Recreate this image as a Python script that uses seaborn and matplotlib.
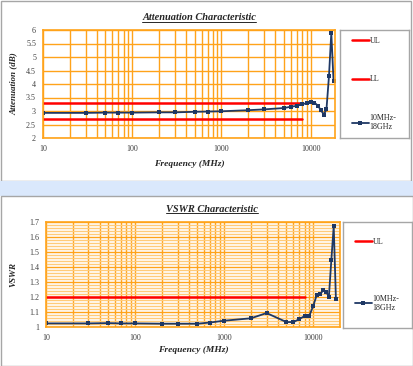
import numpy as np
import pandas as pd
import matplotlib
matplotlib.use("Agg")
import matplotlib.pyplot as plt
import seaborn as sns
from matplotlib.ticker import FixedLocator, NullFormatter, FuncFormatter, MultipleLocator
from matplotlib.patches import Rectangle
from matplotlib.lines import Line2D

# datos
freq = [10, 30, 50, 70, 100, 200, 300, 500, 700, 1000, 2000, 3000, 5000, 6000,
        7000, 8000, 9000, 10000, 11000, 12000, 13000, 14000, 15000, 16000, 17000, 18000]
atten = [2.93, 2.93, 2.94, 2.94, 2.94, 2.95, 2.95, 2.97, 2.98, 2.99, 3.03, 3.06, 3.11, 3.16,
         3.19, 3.25, 3.29, 3.33, 3.31, 3.2, 3.03, 2.87, 3.06, 4.28, 5.9, 4.12]
vswr = [1.024, 1.024, 1.026, 1.024, 1.024, 1.022, 1.022, 1.022, 1.03, 1.042, 1.058, 1.093,
        1.033, 1.033, 1.053, 1.073, 1.071, 1.14, 1.216, 1.218, 1.247, 1.236, 1.2, 1.449, 1.673, 1.184]
lim_freq = [10, 8000]
att_ul = [3.3, 3.3]
att_ll = [2.7, 2.7]
vswr_ul = [1.2, 1.2]
serie = "10MHz-\n18GHz"

sns.set_theme(style="white")
plt.rcParams["font.family"] = ["Liberation Serif", "DejaVu Serif"]

W, H = 413, 366
fig = plt.figure(figsize=(W / 100, H / 100), dpi=100)

NAVY = "#1F3864"
RED = "#FF0000"
ORANGE = "#FFA31A"
ORANGE_L = "#FFCB7A"
GRIS = "#A6A6A6"


def px(x0, y0, x1, y1):
    return [x0 / W, 1 - y1 / H, (x1 - x0) / W, (y1 - y0) / H]


# fondo: paneles y banda azul
bg = fig.add_axes([0, 0, 1, 1])
bg.set_xlim(0, W)
bg.set_ylim(H, 0)
bg.axis("off")
bg.add_patch(Rectangle((0.5, 0.5), 410, 180, fc="white", ec=GRIS, lw=1))
bg.add_patch(Rectangle((0, 181), W, 15, fc="#DAE8FC", ec="none"))
bg.add_patch(Rectangle((0.5, 196), 412, 170, fc="white", ec=GRIS, lw=1))


def estilo(ax, xmax, ymin, ymax, ymaj, ymin_step=None):
    ax.set_xscale("log")
    ax.set_xlim(10, xmax)
    ax.set_ylim(ymin, ymax)
    ax.set_facecolor("white")
    minors = [m * 10 ** e for e in range(1, 5) for m in range(1, 10) if m * 10 ** e <= xmax]
    ax.xaxis.set_major_locator(FixedLocator([10, 100, 1000, 10000]))
    ax.xaxis.set_major_formatter(FuncFormatter(lambda v, p: f"{int(v)}"))
    ax.xaxis.set_minor_locator(FixedLocator(minors))
    ax.xaxis.set_minor_formatter(NullFormatter())
    ax.yaxis.set_major_locator(MultipleLocator(ymaj))
    ax.yaxis.set_major_formatter(FuncFormatter(lambda v, p: f"{v:g}"))
    ax.grid(True, which="major", axis="both", color=ORANGE, lw=1.0)
    ax.grid(True, which="minor", axis="x", color=ORANGE, lw=1.0)
    if ymin_step:
        ax.yaxis.set_minor_locator(MultipleLocator(ymin_step))
        ax.grid(True, which="minor", axis="y", color=ORANGE_L, lw=1.0)
    ax.set_axisbelow(True)
    for s in ax.spines.values():
        s.set_color(ORANGE)
        s.set_linewidth(1.2)
    ax.tick_params(which="both", length=0, labelsize=5.8, colors="#404040", pad=5)


def titulo(texto, cx, cy):
    t = fig.text(cx / W, 1 - cy / H, texto, ha="center", va="center", fontsize=7.5,
                 fontweight="bold", style="italic", color="#262626")
    fig.canvas.draw()
    bb = t.get_window_extent()
    yb = bb.y0 + 0.5
    fig.add_artist(Line2D([bb.x0 / W, bb.x1 / W], [yb / H, yb / H],
                          transform=fig.transFigure, color="#262626", lw=0.7))


def leyenda(ax, caja, spacing):
    lax = fig.add_axes(px(*caja))
    lax.set_xticks([])
    lax.set_yticks([])
    for s in lax.spines.values():
        s.set_color(GRIS)
        s.set_linewidth(1)
    h, l = ax.get_legend_handles_labels()
    if ax.get_legend():
        ax.get_legend().remove()
    lax.legend(h, l, loc="center left", bbox_to_anchor=(0.18, 0.5), frameon=False,
               fontsize=5.8, handlelength=2.0, handletextpad=0.1, labelspacing=spacing,
               borderaxespad=0, borderpad=0)


# --- atenuacion
ax1 = fig.add_axes(px(43, 30, 335, 138))
sns.lineplot(x=lim_freq, y=att_ul, ax=ax1, color=RED, lw=1.8, label="UL")
sns.lineplot(x=lim_freq, y=att_ll, ax=ax1, color=RED, lw=1.8, label="LL")
sns.lineplot(x=freq, y=atten, ax=ax1, color=NAVY, lw=1.3, marker="s", markersize=3.3,
             markeredgewidth=0, label=serie)
estilo(ax1, 18700, 2, 6, 0.5)
ax1.set_xlabel("Frequency (MHz)", fontsize=6.8, fontweight="bold", style="italic", labelpad=5)
ax1.set_ylabel("Attenuation (dB)", fontsize=6.5, fontweight="bold", style="italic", labelpad=6)
leyenda(ax1, (340, 30, 409, 138), 3.8)

# --- VSWR
ax2 = fig.add_axes(px(46, 222, 340, 327))
sns.lineplot(x=lim_freq, y=vswr_ul, ax=ax2, color=RED, lw=1.8, label="UL")
sns.lineplot(x=freq, y=vswr, ax=ax2, color=NAVY, lw=1.3, marker="s", markersize=3.3,
             markeredgewidth=0, label=serie)
estilo(ax2, 20000, 1, 1.7, 0.1, 0.02)
ax2.set_xlabel("Frequency (MHz)", fontsize=6.8, fontweight="bold", style="italic", labelpad=3)
ax2.set_ylabel("VSWR", fontsize=6.5, fontweight="bold", style="italic", labelpad=8)
leyenda(ax2, (343, 222, 412, 328), 6.0)

titulo("Attenuation Characteristic", 199, 18)
titulo("VSWR Characteristic", 212, 209)

fig.savefig("out.png", dpi=100)
